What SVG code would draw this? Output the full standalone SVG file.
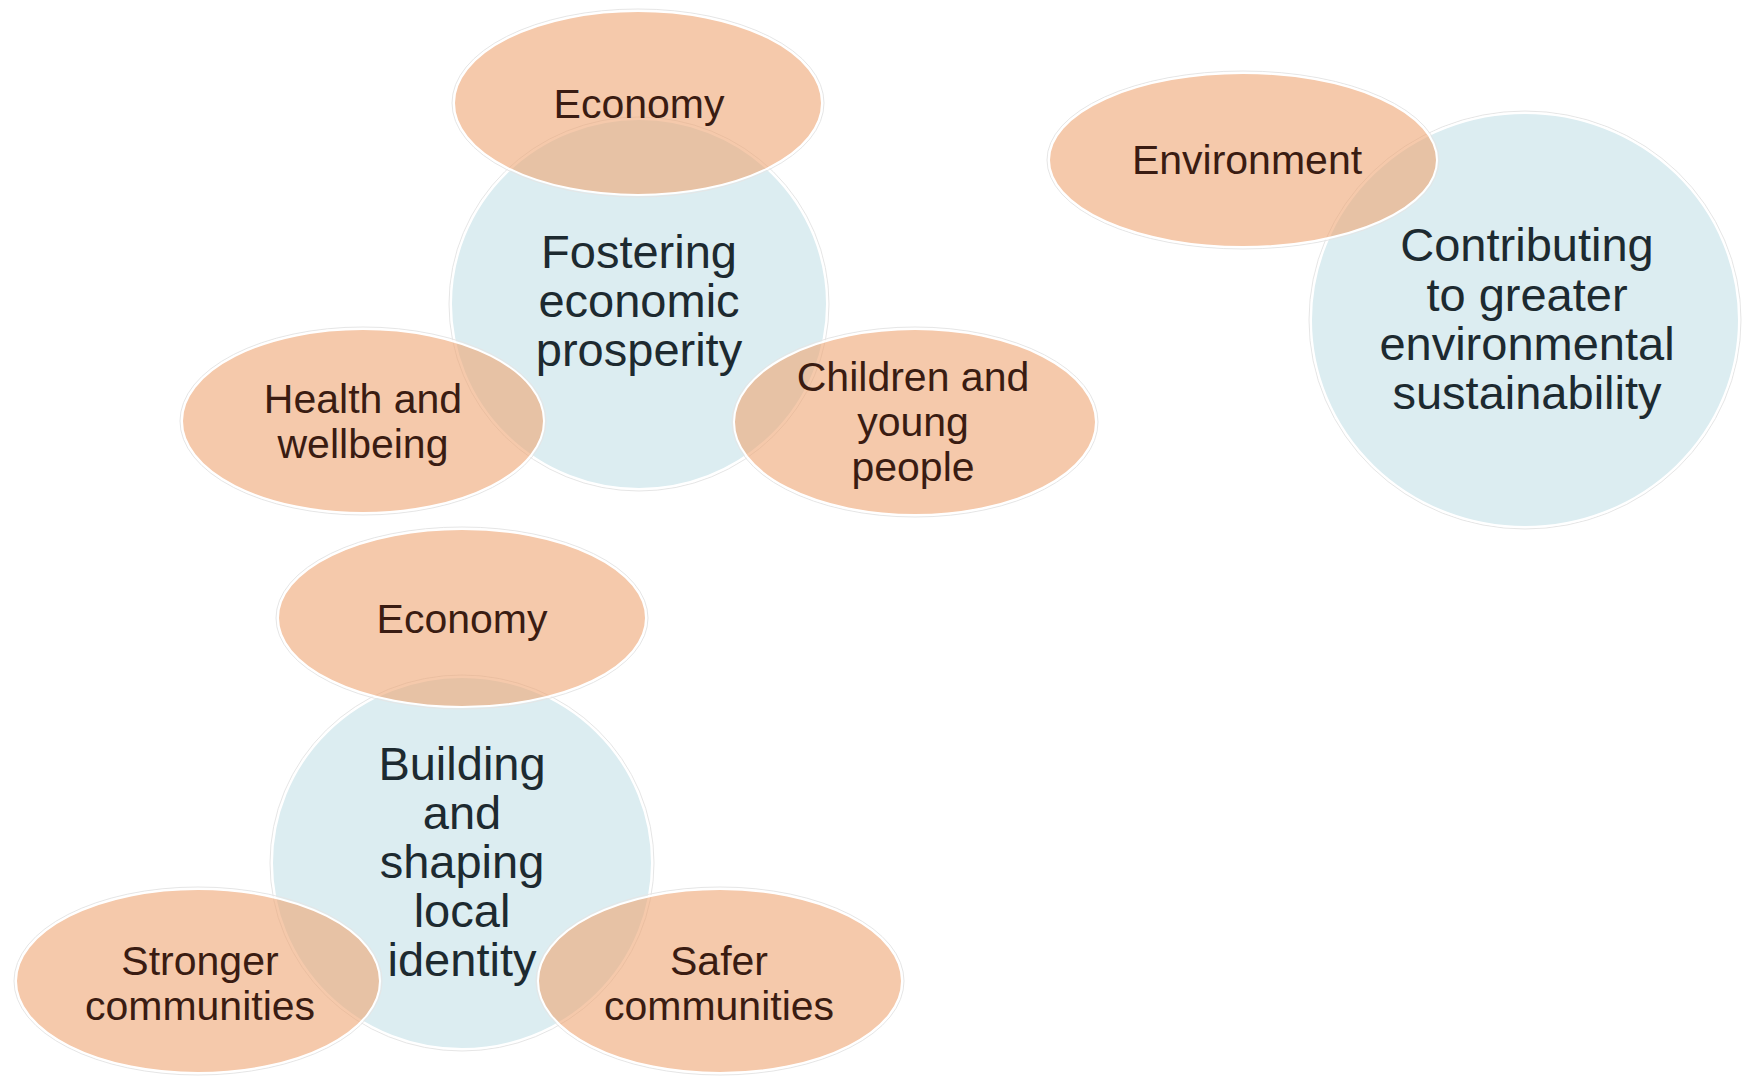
<svg xmlns="http://www.w3.org/2000/svg" width="1742" height="1077" viewBox="0 0 1742 1077">
<defs>
<style>
.bg{fill:#ffffff}
.hub{fill:#dcedf1;stroke:#ffffff;stroke-width:2}
.sat{fill:#eea573;fill-opacity:0.6;stroke:#ffffff;stroke-width:2}
.rim{fill:none;stroke:#e6e6e6;stroke-width:1}
.ht{font-family:"Liberation Sans",Arial,sans-serif;font-size:47px;fill:#1d2a30;text-anchor:middle}
.st{font-family:"Liberation Sans",Arial,sans-serif;font-size:41px;fill:#3a1c12;text-anchor:middle}
</style>
</defs>
<rect class="bg" x="0" y="0" width="1742" height="1077"/>
<g id="connectors"/>
<!-- Group 1 -->
<g id="hub-fostering">
<ellipse class="rim" cx="639" cy="304" rx="190" ry="187"/>
<ellipse class="hub" cx="639" cy="304" rx="188" ry="185"/>
<text class="ht" x="639" y="268">Fostering</text>
<text class="ht" x="639" y="317">economic</text>
<text class="ht" x="639" y="366">prosperity</text>
</g>
<g id="sat-economy-1">
<ellipse class="rim" cx="638" cy="103" rx="186" ry="94"/>
<ellipse class="sat" cx="638" cy="103" rx="184" ry="92"/>
<text class="st" x="639" y="118">Economy</text>
</g>
<g id="sat-health">
<ellipse class="rim" cx="363" cy="421" rx="183" ry="94"/>
<ellipse class="sat" cx="363" cy="421" rx="181" ry="92"/>
<text class="st" x="363" y="413">Health and</text>
<text class="st" x="363" y="458">wellbeing</text>
</g>
<g id="sat-children">
<ellipse class="rim" cx="915" cy="422" rx="183" ry="95"/>
<ellipse class="sat" cx="915" cy="422" rx="181" ry="93"/>
<text class="st" x="913" y="391">Children and</text>
<text class="st" x="913" y="436">young</text>
<text class="st" x="913" y="481">people</text>
</g>
<!-- Group 2 -->
<g id="hub-environmental">
<ellipse class="rim" cx="1525" cy="320" rx="216" ry="209"/>
<ellipse class="hub" cx="1525" cy="320" rx="214" ry="207"/>
<text class="ht" x="1527" y="261">Contributing</text>
<text class="ht" x="1527" y="311">to greater</text>
<text class="ht" x="1527" y="360">environmental</text>
<text class="ht" x="1527" y="409">sustainability</text>
</g>
<g id="sat-environment">
<ellipse class="rim" cx="1243" cy="160" rx="196" ry="89"/>
<ellipse class="sat" cx="1243" cy="160" rx="194" ry="87"/>
<text class="st" x="1247" y="174">Environment</text>
</g>
<!-- Group 3 -->
<g id="hub-building">
<ellipse class="rim" cx="462" cy="863" rx="192" ry="188"/>
<ellipse class="hub" cx="462" cy="863" rx="190" ry="186"/>
<text class="ht" x="462" y="780">Building</text>
<text class="ht" x="462" y="829">and</text>
<text class="ht" x="462" y="878">shaping</text>
<text class="ht" x="462" y="927">local</text>
<text class="ht" x="462" y="976">identity</text>
</g>
<g id="sat-economy-2">
<ellipse class="rim" cx="462" cy="618" rx="186" ry="91"/>
<ellipse class="sat" cx="462" cy="618" rx="184" ry="89"/>
<text class="st" x="462" y="633">Economy</text>
</g>
<g id="sat-stronger">
<ellipse class="rim" cx="198" cy="981" rx="184" ry="94"/>
<ellipse class="sat" cx="198" cy="981" rx="182" ry="92"/>
<text class="st" x="200" y="975">Stronger</text>
<text class="st" x="200" y="1020">communities</text>
</g>
<g id="sat-safer">
<ellipse class="rim" cx="720" cy="981" rx="184" ry="94"/>
<ellipse class="sat" cx="720" cy="981" rx="182" ry="92"/>
<text class="st" x="719" y="975">Safer</text>
<text class="st" x="719" y="1020">communities</text>
</g>
</svg>
